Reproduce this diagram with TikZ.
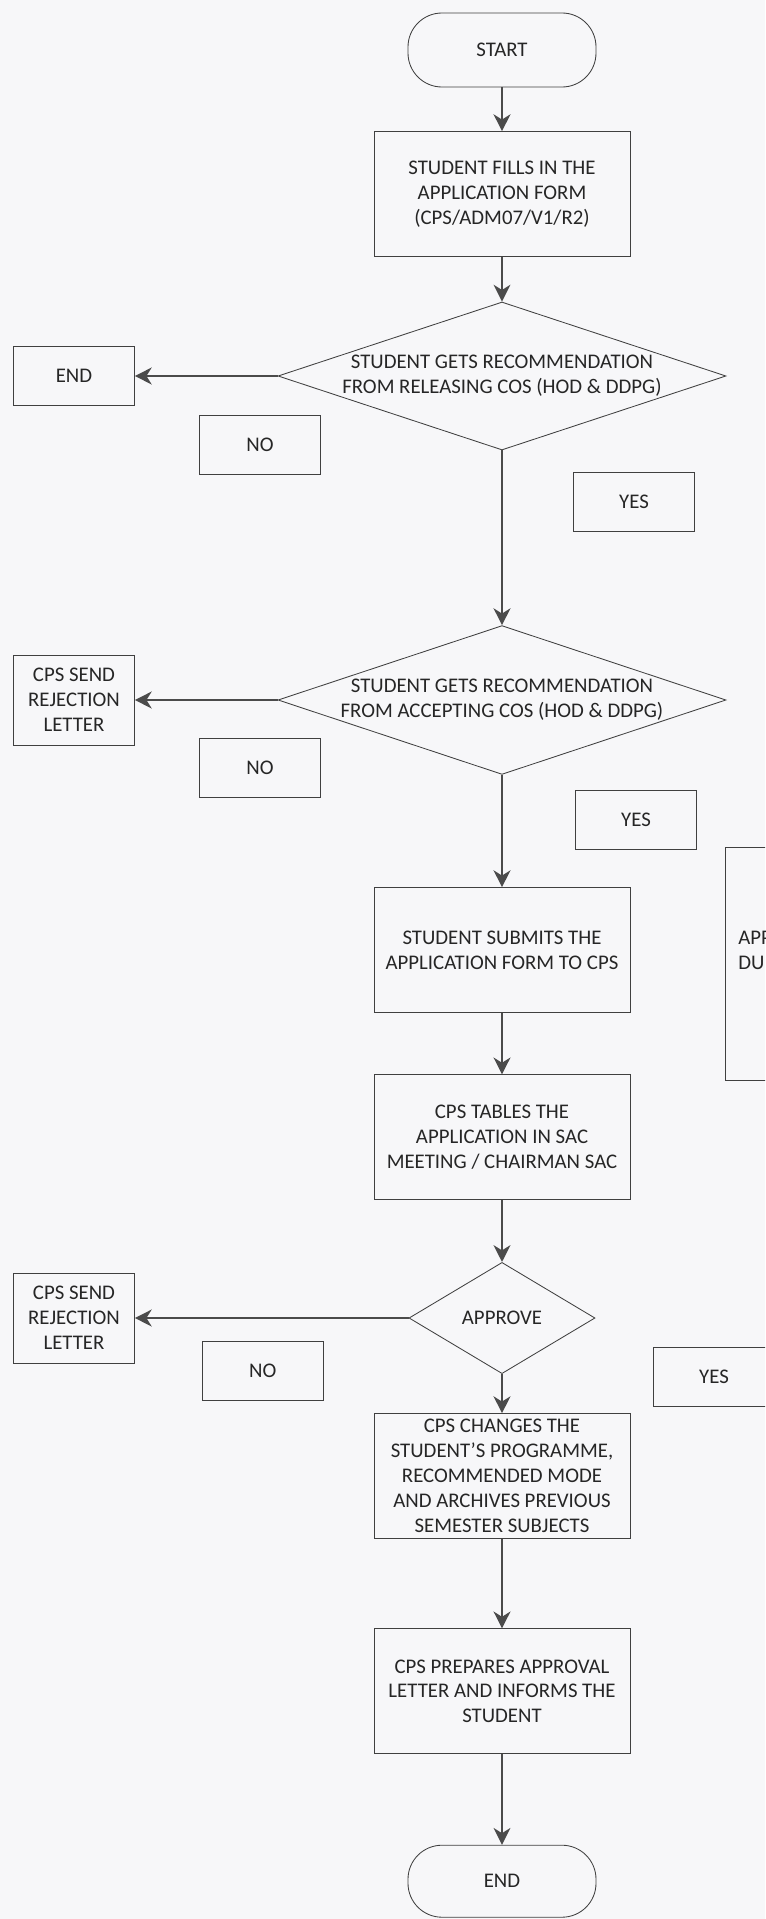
\documentclass[tikz,border=0pt]{standalone}
\usepackage{fontspec}
\setmainfont{Carlito}
\usetikzlibrary{calc,shapes.geometric,arrows.meta}

\definecolor{paper}{RGB}{247,247,249}
\definecolor{ink}{RGB}{75,75,75}

\tikzset{
    every node/.style={font=\fontsize{14.8}{17.7}\selectfont, text=black!85},
    process/.style={draw=black!75, line width=0.6pt, align=center, minimum width=6.4cm, minimum height=3.12cm, inner sep=1pt},
    decision/.style={draw=black!75, line width=0.6pt, diamond, align=center, inner sep=0pt},
    terminal/.style={draw=black!75, line width=0.6pt, rounded corners=0.85cm, minimum width=4.7cm, minimum height=1.85cm},
    answer/.style={draw=black!75, line width=0.6pt, align=center, minimum width=3.02cm, minimum height=1.47cm, inner sep=1pt},
    flow/.style={draw=ink, line width=1.7pt, -{Stealth[length=4.2mm, width=4.2mm, inset=1.3mm]}},
}

\begin{document}
\begin{tikzpicture}
    \useasboundingbox (0, 0) rectangle (19.125, -47.975);
    \fill [paper] (0, 0) rectangle (19.125, -47.975);
    \clip (0, 0) rectangle (19.125, -47.975);

    \node [terminal] (start) at (12.55, -1.25) {START};
    \node [process] (fill) at ($(start) + (0, -3.6)$) {STUDENT FILLS IN THE\\APPLICATION FORM\\(CPS/ADM07/V1/R2)};
    \node [decision, minimum width=11.2cm, minimum height=3.7cm, aspect=3] (releasing) at ($(fill) + (0, -4.55)$) {STUDENT GETS RECOMMENDATION\\FROM RELEASING COS (HOD \& DDPG)};
        \node [answer] (endleft) at ($(releasing) + (-10.7, 0)$) {END};
        \node [answer] (noA) at ($(releasing) + (-6.05, -1.73)$) {NO};
        \node [answer] (yesA) at ($(releasing) + (3.3, -3.15)$) {YES};
    \node [decision, minimum width=11.2cm, minimum height=3.7cm, aspect=3] (accepting) at ($(releasing) + (0, -8.1)$) {STUDENT GETS RECOMMENDATION\\FROM ACCEPTING COS (HOD \& DDPG)};
        \node [answer, minimum height=2.25cm] (rejectA) at ($(accepting) + (-10.7, 0)$) {CPS SEND\\REJECTION\\LETTER};
        \node [answer] (noB) at ($(accepting) + (-6.05, -1.7)$) {NO};
        \node [answer] (yesB) at ($(accepting) + (3.35, -3.0)$) {YES};
    \node [process] (submit) at ($(accepting) + (0, -6.25)$) {STUDENT SUBMITS THE\\APPLICATION FORM TO CPS};
        \node [draw=black!75, line width=0.6pt, anchor=north west, minimum width=6.4cm, minimum height=5.83cm] (side) at (18.125, -21.175) {};
        \node [anchor=west, align=left, inner sep=0pt] (sidetext) at (18.45, -23.75) {APP\\DU};
    \node [process] (tables) at ($(submit) + (0, -4.68)$) {CPS TABLES THE\\APPLICATION IN SAC\\MEETING / CHAIRMAN SAC};
    \node [decision, minimum width=4.65cm, minimum height=2.78cm, aspect=1.68] (approve) at ($(tables) + (0, -4.52)$) {APPROVE};
        \node [answer, minimum height=2.25cm] (rejectB) at ($(approve) + (-10.7, 0)$) {CPS SEND\\REJECTION\\LETTER};
        \node [answer] (noC) at ($(approve) + (-5.98, -1.33)$) {NO};
        \node [answer] (yesC) at ($(approve) + (5.3, -1.48)$) {YES};
    \node [process] (changes) at ($(approve) + (0, -3.95)$) {CPS CHANGES THE\\STUDENT’S PROGRAMME,\\RECOMMENDED MODE\\AND ARCHIVES PREVIOUS\\SEMESTER SUBJECTS};
    \node [process] (prepares) at ($(changes) + (0, -5.38)$) {CPS PREPARES APPROVAL\\LETTER AND INFORMS THE\\STUDENT};
    \node [terminal, minimum height=1.8cm] (finish) at ($(prepares) + (0, -4.75)$) {END};

    \draw [flow] (start) -- (fill);
    \draw [flow] (fill) -- (releasing);
    \draw [flow] (releasing) -- (endleft);
    \draw [flow] (releasing) -- (accepting);
    \draw [flow] (accepting) -- (rejectA);
    \draw [flow] (accepting) -- (submit);
    \draw [flow] (submit) -- (tables);
    \draw [flow] (tables) -- (approve);
    \draw [flow] (approve) -- (rejectB);
    \draw [flow] (approve) -- (changes);
    \draw [flow] (changes) -- (prepares);
    \draw [flow] (prepares) -- (finish);
\end{tikzpicture}
\end{document}
